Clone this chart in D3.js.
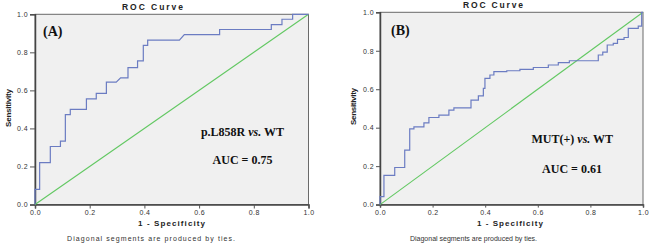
<!DOCTYPE html>
<html>
<head>
<meta charset="utf-8">
<script src="https://cdn.jsdelivr.net/npm/d3@7"></script>
<style>
  html, body { margin: 0; padding: 0; background: #fff; }
  svg { display: block; }
</style>
</head>
<body>
<svg id="chart" width="650" height="245"></svg>
<script>
// ---------- data ----------
const tickValues = [0, 0.2, 0.4, 0.6, 0.8, 1.0];
const tickLabels = ["0.0", "0.2", "0.4", "0.6", "0.8", "1.0"];
const diagonalFpr = [0, 1];
const diagonalTpr = [0, 1];

const fprA = [0,0,0.017,0.017,0.056,0.056,0.093,0.093,0.111,0.111,0.129,0.129,0.188,0.188,0.224,0.224,0.261,0.261,0.297,0.313,0.34,0.34,0.375,0.375,0.396,0.396,0.412,0.412,0.528,0.546,0.675,0.675,0.864,0.864,0.903,0.903,0.942,0.942,1];
const tprA = [0,0.08,0.08,0.22,0.22,0.305,0.305,0.333,0.333,0.473,0.473,0.50,0.50,0.555,0.555,0.584,0.584,0.643,0.643,0.666,0.666,0.72,0.72,0.755,0.755,0.837,0.837,0.864,0.864,0.893,0.893,0.92,0.92,0.946,0.946,0.974,0.974,1,1];

const fprB = [0,0,0.015,0.015,0.056,0.056,0.094,0.094,0.113,0.113,0.129,0.129,0.167,0.167,0.186,0.186,0.224,0.224,0.262,0.262,0.281,0.281,0.346,0.346,0.374,0.374,0.393,0.393,0.399,0.399,0.418,0.418,0.433,0.433,0.482,0.482,0.532,0.532,0.583,0.583,0.64,0.64,0.678,0.678,0.72,0.72,0.83,0.83,0.847,0.847,0.864,0.864,0.887,0.887,0.903,0.903,0.928,0.928,0.944,0.944,0.982,0.982,0.995,0.995,1];
const tprB = [0,0.041,0.041,0.152,0.152,0.193,0.193,0.283,0.283,0.394,0.394,0.404,0.404,0.425,0.425,0.453,0.453,0.465,0.465,0.491,0.491,0.503,0.503,0.543,0.543,0.565,0.565,0.604,0.604,0.656,0.656,0.674,0.674,0.691,0.691,0.696,0.696,0.703,0.703,0.713,0.713,0.726,0.726,0.738,0.738,0.748,0.748,0.778,0.778,0.793,0.793,0.83,0.83,0.838,0.838,0.859,0.859,0.869,0.869,0.916,0.916,0.928,0.928,1,1];

const titleText = "ROC Curve";
const xLabelText = "1 - Specificity";
const yLabelText = "Sensitivity";
const footText = "Diagonal segments are produced by ties.";
const panelTags = ["(A)", "(B)"];
const comparisonA = ["p.L858R ", "vs.", " WT"];
const comparisonB = ["MUT(+) ", "vs.", " WT"];
const aucLabels = ["AUC = 0.75", "AUC = 0.61"];

// ---------- layout ----------
const panels = [
  { fpr: fprA, tpr: tprA, tag: panelTags[0], comp: comparisonA, auc: aucLabels[0],
    left: 35, right: 308.5, top: 14.3, bottom: 204.5, tickLen: 5, yLabGap: 8, xLabBase: 214,
    title: { x: 152.5, y: 10, w: 61 }, ylab: { x: 10.5, y: 108, w: 38 },
    xlab: { x: 171.5, y: 226, w: 67 }, foot: { x: 151, y: 240.5, w: 168 },
    tagPos: { x: 43, y: 35.5 }, compPos: { x: 242.5, y: 135.5 }, aucPos: { x: 242.5, y: 164.3 } },
  { fpr: fprB, tpr: tprB, tag: panelTags[1], comp: comparisonB, auc: aucLabels[1],
    left: 380, right: 643, top: 12.3, bottom: 204.6, tickLen: 4, yLabGap: 6, xLabBase: 211,
    title: { x: 493, y: 7.5, w: 60 }, ylab: { x: 355.5, y: 106.5, w: 37 },
    xlab: { x: 510, y: 226, w: 66 }, foot: { x: 473.5, y: 240.5, w: 127 },
    tagPos: { x: 391, y: 34.5 }, compPos: { x: 572.3, y: 143.3 }, aucPos: { x: 572, y: 172.5 } }
];

const svg = d3.select("#chart");
const sans = "'Liberation Sans', Arial, sans-serif";
const serif = "'Liberation Serif', 'Times New Roman', serif";

panels.forEach(p => {
  const g = svg.append("g");
  const x = d3.scaleLinear().domain([0, 1]).range([p.left, p.right]);
  const y = d3.scaleLinear().domain([0, 1]).range([p.bottom, p.top]);

  // plot background + frame
  g.append("rect")
    .attr("x", x(0)).attr("y", y(1))
    .attr("width", x(1) - x(0)).attr("height", y(0) - y(1))
    .attr("fill", "#f0f0f0").attr("stroke", "#6a6a6a").attr("stroke-width", 1);

  // axes
  const yAxis = d3.axisLeft(y).tickValues(tickValues)
    .tickFormat((d, i) => tickLabels[i]).tickSize(p.tickLen).tickPadding(2);
  const xAxis = d3.axisBottom(x).tickValues(tickValues)
    .tickFormat((d, i) => tickLabels[i]).tickSize(p.tickLen - 1).tickPadding(2);

  const ya = g.append("g").attr("transform", `translate(${x(0)},0)`).call(yAxis);
  const xa = g.append("g").attr("transform", `translate(0,${y(0)})`).call(xAxis);
  [ya, xa].forEach(a => {
    a.select(".domain").attr("stroke", "#444").attr("stroke-width", 1.5);
    a.selectAll(".tick line").attr("stroke", "#555");
    a.selectAll(".tick text").attr("fill", "#333")
      .style("font-family", sans).style("font-size", "7px").style("letter-spacing", "0.4px");
  });

  // diagonal reference
  const line = d3.line().x(d => x(d[0])).y(d => y(d[1]));
  g.append("path")
    .datum(diagonalFpr.map((f, i) => [f, diagonalTpr[i]]))
    .attr("d", line).attr("fill", "none")
    .attr("stroke", "#62c862").attr("stroke-width", 1.1);

  // ROC curve
  g.append("path")
    .datum(p.fpr.map((f, i) => [f, p.tpr[i]]))
    .attr("d", line).attr("fill", "none")
    .attr("stroke", "#6b7cc2").attr("stroke-width", 1.2);

  // titles & labels
  g.append("text").attr("x", p.title.x).attr("y", p.title.y)
    .attr("text-anchor", "middle").attr("textLength", p.title.w).attr("lengthAdjust", "spacing")
    .style("font-family", sans).style("font-weight", "bold").style("font-size", "8.5px")
    .attr("fill", "#222").text(titleText);

  g.append("text").attr("transform", `translate(${p.ylab.x},${p.ylab.y}) rotate(-90)`)
    .attr("text-anchor", "middle").attr("textLength", p.ylab.w).attr("lengthAdjust", "spacing")
    .style("font-family", sans).style("font-weight", "bold").style("font-size", "8px")
    .attr("fill", "#222").text(yLabelText);

  g.append("text").attr("x", p.xlab.x).attr("y", p.xlab.y)
    .attr("text-anchor", "middle").attr("textLength", p.xlab.w).attr("lengthAdjust", "spacing")
    .style("font-family", sans).style("font-weight", "bold").style("font-size", "8px")
    .attr("fill", "#222").text(xLabelText);

  g.append("text").attr("x", p.foot.x).attr("y", p.foot.y)
    .attr("text-anchor", "middle").attr("textLength", p.foot.w).attr("lengthAdjust", "spacing")
    .style("font-family", sans).style("font-size", "7px")
    .attr("fill", "#333").text(footText);

  // annotations
  g.append("text").attr("x", p.tagPos.x).attr("y", p.tagPos.y)
    .style("font-family", serif).style("font-weight", "bold").style("font-size", "14px")
    .attr("fill", "#111").text(p.tag);

  const comp = g.append("text").attr("x", p.compPos.x).attr("y", p.compPos.y)
    .attr("text-anchor", "middle")
    .style("font-family", serif).style("font-weight", "bold").style("font-size", "12px")
    .attr("fill", "#111");
  comp.append("tspan").text(p.comp[0]);
  comp.append("tspan").style("font-style", "italic").text(p.comp[1]);
  comp.append("tspan").text(p.comp[2]);

  g.append("text").attr("x", p.aucPos.x).attr("y", p.aucPos.y)
    .attr("text-anchor", "middle")
    .style("font-family", serif).style("font-weight", "bold").style("font-size", "12px")
    .attr("fill", "#111").text(p.auc);
});
</script>
</body>
</html>
